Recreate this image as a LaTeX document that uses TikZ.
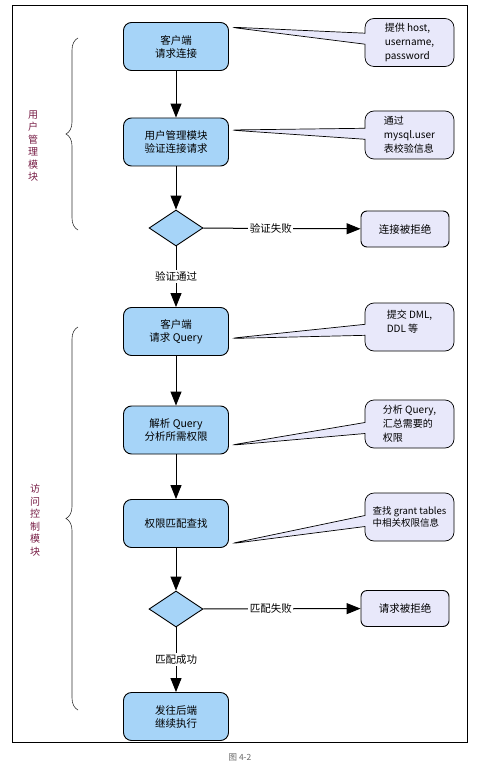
\documentclass[tikz,border=0pt]{standalone}
\usepackage{fontspec}
\setmainfont{Noto Sans CJK SC}
\usetikzlibrary{shapes.geometric,shapes.callouts,decorations.pathreplacing,arrows.meta}

\definecolor{boxblue}{RGB}{166,212,248}
\definecolor{notelilac}{RGB}{232,232,250}
\definecolor{modred}{RGB}{120,30,70}

\begin{document}
\begin{tikzpicture}[
    x=1pt,
    y=-1pt,
    procbox/.style={
        rectangle,
        rounded corners=8pt,
        draw,
        line width=0.9pt,
        fill=boxblue,
        minimum width=105pt,
        minimum height=48pt,
        align=center,
        font=\fontsize{10.5}{13}\selectfont
    },
    decision/.style={
        diamond,
        draw,
        line width=0.9pt,
        fill=boxblue,
        minimum width=54pt,
        minimum height=36pt,
        inner sep=0pt
    },
    rejectbox/.style={
        rectangle,
        rounded corners=6pt,
        draw,
        line width=0.9pt,
        fill=notelilac,
        minimum width=88pt,
        minimum height=36pt,
        font=\fontsize{10.5}{13}\selectfont
    },
    note/.style={
        rectangle callout,
        rounded corners=9pt,
        draw,
        line width=0.7pt,
        fill=notelilac,
        minimum width=89pt,
        minimum height=48pt,
        callout pointer width=11pt,
        align=left,
        inner sep=2pt,
        font=\fontsize{10}{14}\selectfont
    },
    flow/.style={
        -{Triangle[length=14pt,width=11pt]},
        line width=1pt
    },
    edgelabel/.style={
        fill=white,
        inner sep=1.5pt,
        font=\fontsize{10.5}{13}\selectfont
    },
    modbrace/.style={
        decorate,
        decoration={brace,amplitude=12pt},
        line width=0.6pt,
        draw=black!80
    },
    modlabel/.style={
        align=center,
        text=modred,
        font=\fontsize{10}{12.5}\selectfont
    }
]
\useasboundingbox (0,0) rectangle (484,767);

% frame
\draw[line width=0.8pt] (12,5) rectangle (467,742);

% main flow
\node[procbox] (B1) at (176,46.5) {客户端\\请求连接};
\node[procbox] (B2) at (176,142) {用户管理模块\\验证连接请求};
\node[decision] (D1) at (176,228) {};
\node[procbox] (B3) at (176,331.5) {客户端\\请求 Query};
\node[procbox] (B4) at (176,430) {解析 Query\\分析所需权限};
\node[procbox] (B5) at (176,523.5) {权限匹配查找};
\node[decision] (D2) at (176,609) {};
\node[procbox] (B6) at (176,716.5) {发往后端\\继续执行};

% rejected
\node[rejectbox] (R1) at (405,229) {连接被拒绝};
\node[rejectbox] (R2) at (405,608.5) {请求被拒绝};

% notes
\node[note, callout absolute pointer={([yshift=-5pt]B1.north east)}] (N1) at (409.5,42.5)
    {提供 host,\\username,\\password};
\node[note, callout absolute pointer={([yshift=12pt]B2.east)}] (N2) at (409.5,135)
    {通过\\mysql.user\\表校验信息};
\node[note, callout absolute pointer={([yshift=-7pt]B3.east)}] (N3) at (409.5,327)
    {提交 DML,\\DDL 等\\[-2pt]\mbox{}};
\node[note, callout absolute pointer={([yshift=9pt]B4.south east)}] (N4) at (409.5,424)
    {分析 Query,\\汇总需要的\\权限};
\node[note, inner sep=0.5pt, font=\fontsize{9.5}{12}\selectfont,
      callout absolute pointer={([yshift=4pt]B5.south east)}] (N5) at (409.5,517)
    {查找 grant tables\\中相关权限信息};

% edges
\draw[flow] (B1) -- (B2);
\draw[flow] (B2) -- (D1);
\draw[flow] (D1) -- node[edgelabel, pos=0.43] {验证失败} (R1);
\draw[flow] (D1) -- node[edgelabel] {验证通过} (B3);
\draw[flow] (B3) -- (B4);
\draw[flow] (B4) -- (B5);
\draw[flow] (B5) -- (D2);
\draw[flow] (D2) -- node[edgelabel, pos=0.43] {匹配失败} (R2);
\draw[flow] (D2) -- node[edgelabel] {匹配成功} (B6);

% module braces
\draw[modbrace] (78,230) -- (78,38);
\draw[modbrace] (78,710) -- (78,327);
\node[modlabel] (M1) at (33,146) {用\\户\\管\\理\\模\\块};
\node[modlabel] (M2) at (35,520) {访\\问\\控\\制\\模\\块};

% caption
\node[text=black!60, font=\fontsize{8.5}{10}\selectfont] (cap) at (240,757) {图 4-2};

\end{tikzpicture}
\end{document}
